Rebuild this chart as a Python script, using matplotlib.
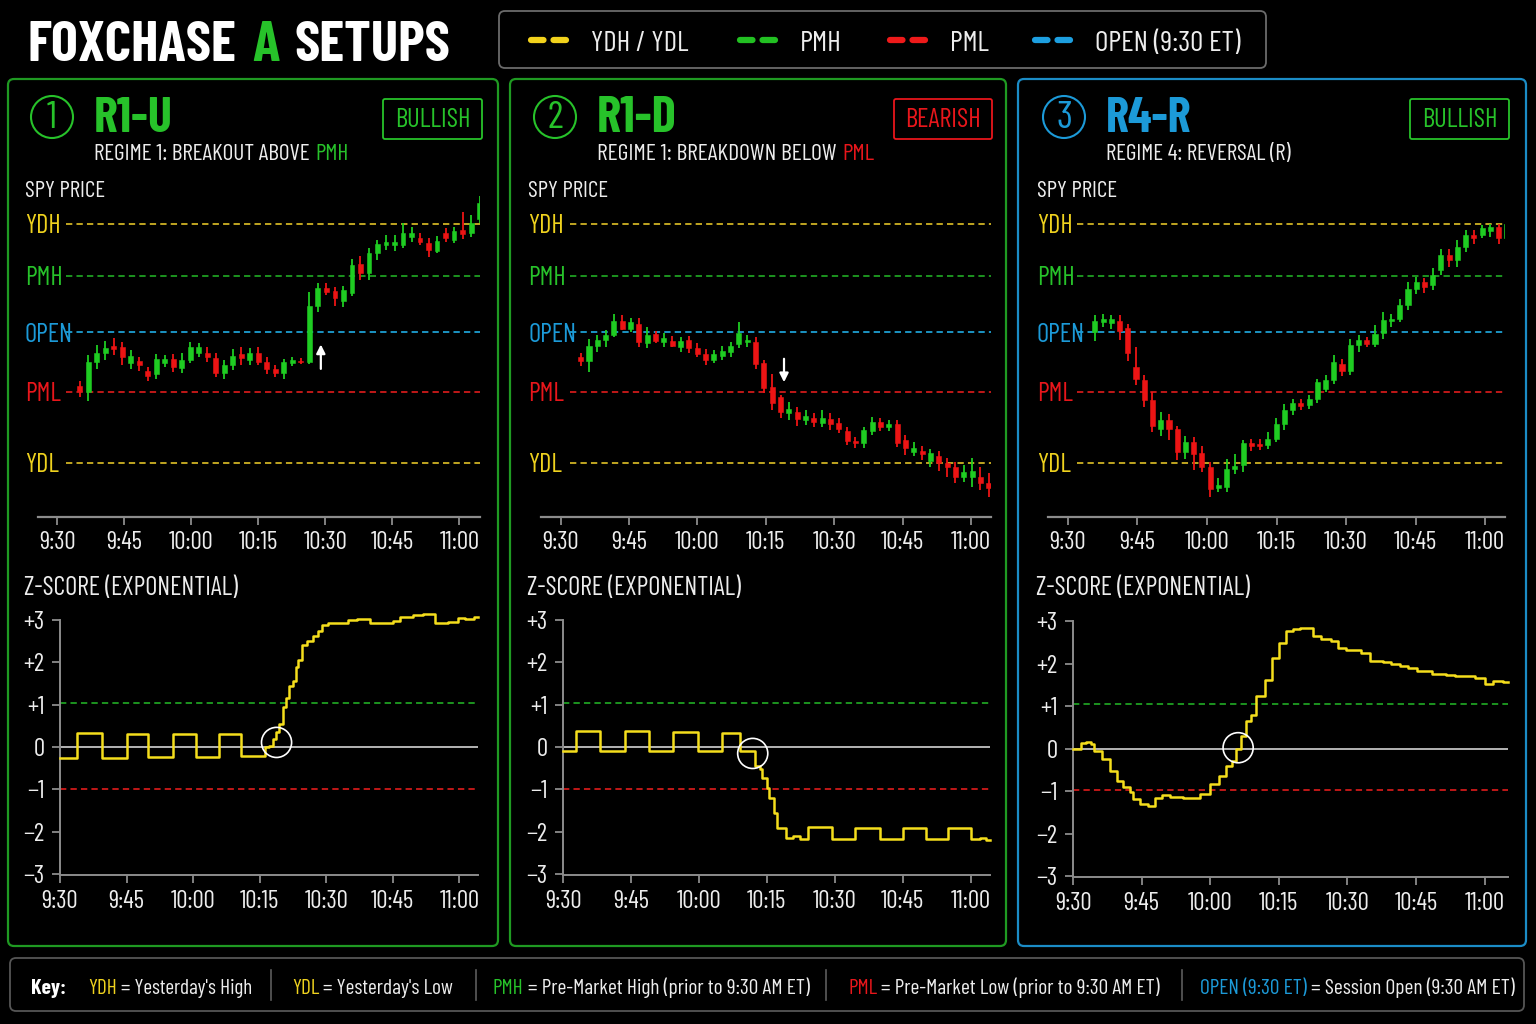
import numpy as np
import matplotlib
matplotlib.use("Agg")
import matplotlib.pyplot as plt
from matplotlib import font_manager as fm
from matplotlib.patches import FancyBboxPatch, Circle
import matplotlib.transforms as mtransforms

W, H = 1536, 1024

# pick a narrow face, the reference uses a DIN-like condensed font
names = {f.name for f in fm.fontManager.ttflist}
NARROW = "Roboto"
for cand in ["Barlow Condensed", "Roboto Condensed", "Liberation Sans Narrow"]:
    if cand in names:
        NARROW = cand
        break
plt.rcParams["font.family"] = [NARROW, "DejaVu Sans"]

# ---------------- data ----------------
TICK_MIN = [0, 15, 30, 45, 60, 75, 90]
TICK_LABELS = ["9:30", "9:45", "10:00", "10:15", "10:30", "10:45", "11:00"]

LEVEL_NAMES = ["YDH", "PMH", "OPEN", "PML", "YDL"]
LEVEL_VALUES = [458.68, 457.13, 455.43, 453.65, 451.51]

# panel 1 - R1-U (2-min candles)
p1_open = [453.82, 453.65, 454.55, 454.82, 455.03, 455.00, 454.50, 454.57, 454.28, 454.17,
           454.50, 454.63, 454.37, 454.60, 454.82, 454.82, 454.65, 454.22, 454.45, 454.78,
           454.60, 454.82, 454.55, 454.33, 454.22, 454.50, 454.57, 454.55, 456.22, 456.75,
           456.67, 456.37, 456.60, 457.47, 457.20, 457.82, 458.05, 458.05, 458.05, 458.30,
           458.27, 458.10, 457.88, 458.42, 458.20, 458.50, 458.40, 458.82]
p1_close = [453.68, 454.55, 454.82, 454.97, 454.93, 454.70, 454.73, 454.45, 454.13, 454.62,
            454.63, 454.40, 454.60, 454.98, 454.98, 454.68, 454.22, 454.45, 454.72, 454.65,
            454.82, 454.55, 454.33, 454.20, 454.53, 454.60, 454.53, 456.22, 456.75, 456.65,
            456.45, 456.70, 457.45, 457.22, 457.82, 458.07, 458.15, 458.13, 458.40, 458.40,
            458.15, 457.90, 458.18, 458.25, 458.47, 458.38, 458.72, 459.32]
p1_high = [453.97, 454.75, 455.05, 455.18, 455.25, 455.15, 454.90, 454.70, 454.40, 454.78,
           454.75, 454.78, 454.80, 455.15, 455.12, 455.00, 454.80, 454.60, 454.92, 455.00,
           454.95, 455.00, 454.70, 454.45, 454.62, 454.68, 454.65, 456.65, 456.90, 456.92,
           456.80, 456.82, 457.62, 457.72, 457.95, 458.20, 458.35, 458.35, 458.70, 458.60,
           458.40, 458.25, 458.32, 458.55, 458.60, 459.05, 458.95, 459.52]
p1_low = [453.50, 453.38, 454.32, 454.60, 454.75, 454.45, 454.32, 454.28, 453.98, 454.03,
          454.40, 454.25, 454.20, 454.50, 454.68, 454.55, 454.10, 454.03, 454.30, 454.45,
          454.45, 454.45, 454.18, 454.10, 454.02, 454.43, 454.48, 454.47, 456.05, 456.55,
          456.23, 456.20, 456.52, 457.00, 457.00, 457.60, 457.90, 457.88, 457.95, 458.15,
          458.05, 457.68, 457.80, 458.15, 458.10, 458.22, 458.28, 458.72]

# panel 2 - R1-D
p2_open = [454.70, 454.57, 455.02, 455.20, 455.35, 455.78, 455.53, 455.68, 455.10, 455.37,
           455.13, 455.18, 455.00, 455.20, 454.97, 454.78, 454.60, 454.73, 454.85, 455.08,
           455.15, 455.15, 454.50, 453.80, 453.50, 453.02, 453.05, 452.80, 452.87, 452.72,
           452.82, 452.70, 452.48, 452.17, 452.12, 452.48, 452.73, 452.58, 452.67, 452.20,
           451.85, 451.88, 451.57, 451.72, 451.52, 451.40, 451.10, 451.08, 451.10, 450.92]
p2_close = [454.57, 455.02, 455.20, 455.35, 455.78, 455.53, 455.75, 455.13, 455.35, 455.18,
            455.25, 455.03, 455.17, 454.95, 454.77, 454.60, 454.78, 454.87, 455.03, 455.40,
            455.20, 454.48, 453.75, 453.30, 453.03, 453.12, 452.82, 452.92, 452.75, 452.85,
            452.68, 452.52, 452.17, 452.10, 452.50, 452.75, 452.58, 452.67, 452.12, 451.95,
            451.95, 451.78, 451.80, 451.52, 451.38, 451.10, 451.25, 451.27, 450.90, 450.75]
p2_high = [454.80, 455.22, 455.35, 455.50, 455.97, 455.95, 455.87, 455.85, 455.60, 455.47,
           455.40, 455.33, 455.30, 455.32, 455.10, 454.92, 454.90, 455.02, 455.13, 455.75,
           455.35, 455.28, 454.60, 454.17, 453.55, 453.35, 453.20, 453.10, 453.00, 453.10,
           453.00, 452.85, 452.60, 452.30, 452.60, 452.90, 452.85, 452.80, 452.80, 452.35,
           452.15, 452.02, 451.92, 451.88, 451.65, 451.55, 451.45, 451.65, 451.40, 451.22]
p2_low = [454.42, 454.25, 454.85, 455.00, 455.30, 455.50, 455.45, 454.98, 454.95, 455.10,
          455.00, 454.98, 454.85, 454.80, 454.70, 454.45, 454.50, 454.60, 454.70, 454.95,
          455.00, 454.32, 453.60, 453.10, 452.85, 452.80, 452.62, 452.65, 452.60, 452.60,
          452.50, 452.40, 452.05, 451.95, 451.95, 452.35, 452.48, 452.48, 452.00, 451.75,
          451.72, 451.60, 451.40, 451.28, 451.10, 450.90, 450.95, 450.80, 450.70, 450.50]

# panel 3 - R4-R
p3_open = [455.44, 455.74, 455.72, 455.76, 455.56, 454.39, 453.99, 453.39, 452.54, 452.79,
           452.52, 451.84, 452.14, 451.82, 451.39, 450.76, 450.79, 451.34, 451.44, 452.12,
           452.09, 452.06, 452.24, 452.69, 453.09, 453.32, 453.24, 453.44, 453.74, 453.99,
           454.49, 454.27, 455.04, 455.19, 455.09, 455.42, 455.76, 455.84, 456.26, 456.74,
           456.94, 456.84, 457.29, 457.74, 457.59, 457.99, 458.36, 458.34, 458.46, 458.59,
           458.26]
p3_close = [455.76, 455.84, 455.82, 455.46, 454.82, 454.04, 453.39, 452.62, 452.79, 452.52,
            451.84, 452.14, 451.79, 451.39, 450.74, 450.84, 451.34, 451.42, 452.12, 452.01,
            452.02, 452.24, 452.69, 453.09, 453.31, 453.21, 453.44, 453.94, 454.01, 454.54,
            454.27, 455.04, 455.19, 455.07, 455.39, 455.79, 455.84, 456.26, 456.74, 456.94,
            456.79, 457.16, 457.76, 457.59, 457.99, 458.36, 458.26, 458.56, 458.59, 458.26,
            458.69]
p3_high = [455.94, 455.99, 455.96, 455.94, 455.67, 454.99, 454.14, 453.64, 453.04, 452.99,
           452.62, 452.32, 452.29, 452.01, 451.54, 451.06, 451.64, 451.79, 452.19, 452.24,
           452.24, 452.44, 452.86, 453.29, 453.44, 453.44, 453.54, 454.04, 454.14, 454.74,
           454.64, 455.22, 455.34, 455.29, 455.64, 456.04, 455.99, 456.44, 456.94, 457.09,
           457.06, 457.36, 457.92, 457.92, 458.19, 458.49, 458.49, 458.64, 458.69, 458.69,
           458.79]
p3_low = [455.16, 455.59, 455.54, 455.19, 454.56, 453.84, 453.19, 452.44, 452.32, 452.19,
          451.59, 451.64, 451.29, 451.24, 450.49, 450.64, 450.64, 451.19, 451.24, 451.86,
          451.89, 451.94, 452.14, 452.49, 452.94, 453.09, 453.14, 453.32, 453.64, 453.89,
          454.12, 454.14, 454.84, 454.99, 454.99, 455.22, 455.59, 455.74, 456.09, 456.59,
          456.62, 456.69, 457.14, 457.39, 457.39, 457.84, 458.09, 458.26, 458.29, 458.09,
          458.16]

# z-score step series: minutes after 9:30, value
z1_t = [0, 3.9, 9.4, 15.0, 19.9, 25.4, 30.7, 35.9, 40.9, 46.2, 47.0, 47.9, 48.6, 49.4, 50.3,
        51.0, 51.5, 52.6, 53.2, 53.6, 54.5, 55.6, 57.0, 58.2, 59.0, 60.5, 62.0, 65.0, 66.9,
        69.9, 75.1, 76.6, 79.6, 81.9, 84.5, 87.5, 89.8, 91.3, 93.2, 94.2]
z1_v = [-0.26, 0.33, -0.26, 0.32, -0.24, 0.30, -0.23, 0.30, -0.21, 0.0, 0.02, 0.2, 0.35, 0.55,
        0.95, 1.15, 1.45, 1.55, 1.9, 2.05, 2.42, 2.5, 2.62, 2.75, 2.88, 2.93, 2.92, 3.0, 3.03,
        2.92, 2.98, 3.06, 3.12, 3.14, 2.93, 2.96, 3.05, 3.03, 3.07, 3.07]
z2_t = [0, 2.9, 8.2, 13.6, 18.9, 24.4, 29.8, 35.1, 39.1, 42.3, 43.4, 43.9, 45.0, 45.6, 46.5,
        47.2, 49.3, 50.9, 52.4, 54.2, 59.3, 64.5, 69.9, 75.1, 80.1, 85.1, 90.2, 92.1, 93.5, 94.3]
z2_v = [-0.09, 0.38, -0.09, 0.38, -0.10, 0.36, -0.10, 0.34, -0.10, -0.45, -0.52, -0.73, -0.96,
        -1.2, -1.55, -1.90, -2.15, -2.10, -2.17, -1.88, -2.17, -1.90, -2.18, -1.92, -2.18,
        -1.92, -2.17, -2.15, -2.20, -2.20]
z3_t = [0, 1.8, 2.9, 4.0, 4.7, 6.4, 8.0, 9.6, 10.9, 12.4, 13.1, 14.6, 16.3, 17.9, 19.5, 21.1,
        24.1, 27.7, 29.9, 31.9, 33.5, 34.8, 35.7, 36.8, 37.9, 39.0, 39.9, 41.9, 43.4, 45.0,
        46.6, 48.1, 49.6, 51.0, 52.5, 54.3, 56.5, 57.9, 59.6, 63.0, 64.9, 67.8, 69.6, 71.4,
        73.3, 75.1, 78.4, 81.6, 83.5, 87.8, 90.0, 91.8, 94.0, 95.1]
z3_v = [0.0, 0.12, 0.16, 0.10, -0.05, -0.25, -0.52, -0.76, -0.91, -1.03, -1.18, -1.30, -1.34,
        -1.17, -1.09, -1.15, -1.17, -1.07, -0.83, -0.65, -0.41, -0.29, 0.0, 0.30, 0.65, 0.80,
        1.23, 1.62, 2.13, 2.49, 2.77, 2.81, 2.83, 2.84, 2.65, 2.57, 2.53, 2.36, 2.32, 2.24,
        2.05, 2.03, 1.99, 1.95, 1.89, 1.83, 1.75, 1.74, 1.71, 1.66, 1.52, 1.58, 1.56, 1.56]

Z_UPPER, Z_LOWER = 1.04, -0.98
Z_TICKS = [-3, -2, -1, 0, 1, 2, 3]
Z_TICK_LABELS = ["\u22123", "\u22122", "\u22121", "0", "+1", "+2", "+3"]

# signal points (zero cross) and breakout arrows
z1_mark, z2_mark, z3_mark = (48.8, 0.11), (41.9, -0.15), (36.1, 0.02)
p1_arrow = (59.0, 454.25, 455.15)
p2_arrow = (49.0, 454.72, 453.85)

# ---------------- style ----------------
GREEN = "#27c22a"
RED = "#e8161b"
YELLOW = "#efd21e"
BLUE = "#1c9ad8"
C_UP, C_DN = "#1fcc22", "#ec1414"
LEVEL_TEXT = [YELLOW, GREEN, BLUE, RED, YELLOW]
LEVEL_LINE = ["#cfb224", "#1f9f22", "#1d9fd2", "#cf1a1a", "#cfb224"]
AXIS_GRAY = "#8c8c8c"
TXT = "#ededed"
DASH = (0, (3.5, 2.3))

fig = plt.figure(figsize=(W / 100, H / 100), dpi=100, facecolor="black")
bg = fig.add_axes([0, 0, 1, 1])
bg.set_xlim(0, W)
bg.set_ylim(H, 0)
bg.axis("off")
renderer = fig.canvas.get_renderer()


def px_axes(x0, y0, x1, y1):
    ax = fig.add_axes([x0 / W, 1 - y1 / H, (x1 - x0) / W, (y1 - y0) / H])
    ax.set_facecolor("none")
    return ax


def fit(arts, width, lo=0.5, hi=1.3):
    x0 = arts[0].get_window_extent(renderer).x0
    x1 = arts[-1].get_window_extent(renderer).x1
    k = float(np.clip(width / (x1 - x0), lo, hi))
    for a in arts:
        a.set_fontsize(a.get_fontsize() * k)


def chain(x, y, parts, size, width=None, gap=4, va="baseline"):
    arts = []
    for i, (s, c, w) in enumerate(parts):
        if i == 0:
            a = bg.text(x, y, s, color=c, fontsize=size, fontweight=w, ha="left", va=va)
        else:
            a = bg.annotate(s, xy=(1, 0), xycoords=arts[-1], xytext=(gap, 0),
                            textcoords="offset points", color=c, fontsize=size,
                            fontweight=w, ha="left", va="bottom")
        arts.append(a)
    if width:
        fit(arts, width)
    return arts


def box(x0, y0, x1, y1, color, lw=1.5, r=6):
    bg.add_patch(FancyBboxPatch((x0, y0), x1 - x0, y1 - y0,
                                boxstyle=f"round,pad=0,rounding_size={r}",
                                fc="none", ec=color, lw=lw))


# title
chain(28, 61, [("FOXCHASE", "white", "bold"), ("A", GREEN, "bold"), ("SETUPS", "white", "bold")],
      50, width=417, gap=11)

# legend box
box(499, 11, 1266, 68, "#6b6b6b", lw=1.3, r=6)
for x0, col, lab, tw in [(528, "#f2d21c", "YDH / YDL", 97), (737, "#22c022", "PMH", 42),
                         (887, "#ee1a1a", "PML", 39), (1032, "#1d9fe0", "OPEN (9:30 ET)", 145)]:
    bg.plot([x0 + 3, x0 + 47], [40, 40], color=col, lw=4.5, ls=(0, (2.0, 1.6)),
            dash_capstyle="round")
    chain(x0 + 63, 51, [(lab, TXT, "normal")], 24, width=tw)

# key box
box(10, 958, 1524, 1011, "#565656", lw=1.3, r=6)
chain(31, 994, [("Key:", "white", "bold")], 19, width=35)
for x0, tw, key, kc, desc in [
        (88, 164, "YDH", YELLOW, "= Yesterday's High"),
        (292, 161, "YDL", YELLOW, "= Yesterday's Low"),
        (493, 317, "PMH", GREEN, "= Pre-Market High (prior to 9:30 AM ET)"),
        (848, 312, "PML", RED, "= Pre-Market Low (prior to 9:30 AM ET)"),
        (1200, 315, "OPEN (9:30 ET)", BLUE, "= Session Open (9:30 AM ET)")]:
    chain(x0, 994, [(key, kc, "normal"), (desc, TXT, "normal")], 19, width=tw, gap=3)
for xs in [271, 476, 826, 1182]:
    bg.plot([xs, xs], [970, 1000], color="#5c5c5c", lw=1.2)

PANELS = [
    dict(frame=(8, 79, 498, 946), fc="#1f9a22", num="1", nc=GREEN, title="R1-U", tc=GREEN, tw=79,
         sub=[("REGIME 1: BREAKOUT ABOVE", TXT, "normal"), ("PMH", GREEN, "normal")], sw=255,
         badge=("BULLISH", GREEN, (383, 99, 482, 139)), ox=0,
         price_box=(38, 190, 480, 517), pxlim=(-4.25, 94.6), zbox=(60, 620, 478, 875), zxlim=(0, 94.2)),
    dict(frame=(510, 79, 1006, 946), fc="#1f9a22", num="2", nc=GREEN, title="R1-D", tc=GREEN, tw=80,
         sub=[("REGIME 1: BREAKDOWN BELOW", TXT, "normal"), ("PML", RED, "normal")], sw=276,
         badge=("BEARISH", RED, (894, 99, 992, 139)), ox=503,
         price_box=(541, 190, 991, 517), pxlim=(-4.3, 94.4), zbox=(563, 620, 990, 875), zxlim=(0, 94.3)),
    dict(frame=(1018, 79, 1526, 946), fc="#1b8cc6", num="3", nc=BLUE, title="R4-R", tc=BLUE, tw=86,
         sub=[("REGIME 4: REVERSAL (R)", TXT, "normal")], sw=185,
         badge=("BULLISH", GREEN, (1410, 99, 1509, 139)), ox=1012,
         price_box=(1048, 190, 1505, 517), pxlim=(-4.3, 94.3), zbox=(1073, 621, 1508, 877), zxlim=(0, 95.1)),
]
CANDLES = [(p1_open, p1_high, p1_low, p1_close, 5.1, 94.5),
           (p2_open, p2_high, p2_low, p2_close, 4.4, 93.9),
           (p3_open, p3_high, p3_low, p3_close, 5.8, 94.7)]
ZSERIES = [(z1_t, z1_v, z1_mark), (z2_t, z2_v, z2_mark), (z3_t, z3_v, z3_mark)]
ARROWS = [p1_arrow, p2_arrow, None]

PRICE_LO, PRICE_HI = 449.89, 459.70

for P, (o, h, l, c, t0, t1), (zt, zv, zm), arr in zip(PANELS, CANDLES, ZSERIES, ARROWS):
    ox = P["ox"]
    box(*P["frame"], P["fc"], lw=1.6, r=6)
    # header
    bg.add_patch(Circle((52 + ox, 117), 21, fc="none", ec=P["nc"], lw=1.5))
    bg.text(52 + ox, 118, P["num"], color=P["nc"], fontsize=28, ha="center", va="center")
    chain(94 + ox, 132, [(P["title"], P["tc"], "bold")], 44, width=P["tw"])
    chain(94 + ox, 160, P["sub"], 19, width=P["sw"], gap=4)
    btxt, bcol, (bx0, by0, bx1, by1) = P["badge"]
    box(bx0, by0, bx1, by1, bcol, lw=1.3, r=2)
    bt = bg.text((bx0 + bx1) / 2, (by0 + by1) / 2 + 1, btxt, color=bcol, fontsize=22,
                 ha="center", va="center")
    fit([bt], 76)
    chain(25 + ox, 197, [("SPY PRICE", TXT, "normal")], 19, width=80)
    chain(24 + ox, 595, [("Z-SCORE (EXPONENTIAL)", TXT, "normal")], 21, width=214)

    # price panel
    ax = px_axes(*P["price_box"])
    ax.set_xlim(*P["pxlim"])
    ax.set_ylim(PRICE_LO, PRICE_HI)
    for s in ["left", "right", "top"]:
        ax.spines[s].set_visible(False)
    ax.spines["bottom"].set_color(AXIS_GRAY)
    ax.spines["bottom"].set_linewidth(1.6)
    ax.set_yticks([])
    ax.set_xticks(TICK_MIN, TICK_LABELS)
    ax.tick_params(axis="x", colors=AXIS_GRAY, labelcolor=TXT, labelsize=18, length=6,
                   width=1.3, pad=4)
    blend = mtransforms.blended_transform_factory(bg.transData, ax.transData)
    for name, lvl, tcol, lcol in zip(LEVEL_NAMES, LEVEL_VALUES, LEVEL_TEXT, LEVEL_LINE):
        ax.hlines(lvl, 2.0, P["pxlim"][1], colors=lcol, linestyles=DASH, lw=1.3)
        ax.text(25 + ox, lvl, name, transform=blend, color=tcol, fontsize=19,
                ha="left", va="center_baseline")
    o, h, l, c = map(np.asarray, (o, h, l, c))
    t = np.linspace(t0, t1, len(o))
    col = np.where(c >= o, C_UP, C_DN)
    ax.vlines(t, l, h, colors=col, lw=1.3, zorder=3)
    ax.bar(t, np.maximum(np.abs(c - o), 0.03), bottom=np.minimum(o, c), width=1.1,
           color=col, edgecolor=col, lw=0.4, zorder=4)
    if arr is not None:
        ax.annotate("", xy=(arr[0], arr[2]), xytext=(arr[0], arr[1]),
                    arrowprops=dict(arrowstyle="-|>", color="white", lw=1.6, mutation_scale=13),
                    zorder=5)

    # z-score panel
    az = px_axes(*P["zbox"])
    az.set_xlim(*P["zxlim"])
    az.set_ylim(-3.02, 3.0)
    for s in ["right", "top"]:
        az.spines[s].set_visible(False)
    for s in ["left", "bottom"]:
        az.spines[s].set_color(AXIS_GRAY)
        az.spines[s].set_linewidth(1.4)
    az.set_xticks(TICK_MIN, TICK_LABELS)
    az.set_yticks(Z_TICKS, Z_TICK_LABELS)
    az.tick_params(colors=AXIS_GRAY, labelcolor=TXT, labelsize=18, length=6, width=1.3)
    az.tick_params(axis="x", pad=5)
    az.tick_params(axis="y", pad=5)
    az.axhline(0, color="#b4b4b4", lw=1.4)
    az.axhline(Z_UPPER, color="#1f9f22", ls=DASH, lw=1.3)
    az.axhline(Z_LOWER, color="#cf1a1a", ls=DASH, lw=1.3)
    az.plot(zt, zv, drawstyle="steps-post", color="#f5de1c", lw=1.8, zorder=4, clip_on=False)
    az.scatter([zm[0]], [zm[1]], s=470, facecolors="none", edgecolors="white",
               linewidths=1.2, zorder=5)

fig.savefig("out.png", dpi=100, facecolor="black")
